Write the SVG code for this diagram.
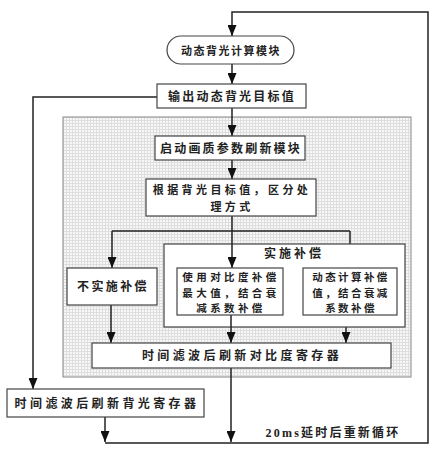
<svg xmlns="http://www.w3.org/2000/svg" width="437" height="450" viewBox="0 0 437 450">
<defs>
<pattern id="grid" width="3" height="3" patternUnits="userSpaceOnUse">
<rect width="3" height="3" fill="#f7f7f7"/>
<path d="M0,0.5 H3 M0.5,0 V3" stroke="#dedede" stroke-width="1"/>
</pattern>
<marker id="ah" viewBox="0 0 11 9" refX="11" refY="4.5" markerWidth="11" markerHeight="9" markerUnits="userSpaceOnUse" orient="auto">
<path d="M0,0 L11,4.5 L0,9 z" fill="#111"/>
</marker>
</defs>
<style>
.box{fill:#fff;stroke:#444;stroke-width:1.2}
.t{font-family:"Noto Sans CJK SC","Noto Sans CJK JP",sans-serif;font-weight:bold;font-size:12px;fill:#222;text-anchor:middle}
.s{font-size:11px}
.m{font-size:10.5px}
.c{fill:none;stroke:#222;stroke-width:1.5}
.a{fill:none;stroke:#222;stroke-width:1.5;marker-end:url(#ah)}
</style>
<rect id="region" x="63" y="117" width="348" height="260" fill="url(#grid)" stroke="#888" stroke-width="1"/>
<g id="connectors">
<path class="a" d="M105,443 H428 V12 H232 V36"/>
<path class="a" d="M232,64 V84"/>
<path class="a" d="M157,97 H33 V389"/>
<path class="a" d="M232,108 V136"/>
<path class="a" d="M232,160 V179"/>
<path class="c" d="M232,216 V231 M112,231 H350"/>
<path class="a" d="M112,231 V268"/>
<path class="a" d="M350,231 V259"/>
<path class="a" d="M111,305 V343"/>
<path class="a" d="M346,315 V343"/>
<path class="a" d="M231,368 V442"/>
<path class="a" d="M105,417 V442"/>
</g>
<g id="n_impl">
<rect class="box" x="164" y="244" width="241" height="83"/>
<text class="t" x="294" y="258" style="letter-spacing:3px">实施补偿</text>
</g>
<path class="a" d="M232,231 V268"/>
<path class="a" d="M231,315 V343"/>
<g id="n_calc">
<rect class="box" x="167" y="36" width="127" height="28" rx="14"/>
<text class="t" x="231" y="54.5" style="font-size:11px;letter-spacing:1.5px">动态背光计算模块</text>
</g>
<g id="n_output">
<rect class="box" x="157" y="84" width="149" height="24"/>
<text class="t" x="232" y="100.5" style="letter-spacing:2.2px">输出动态背光目标值</text>
</g>
<g id="n_start">
<rect class="box" x="155" y="136" width="150" height="24"/>
<text class="t" x="231" y="152.5" style="letter-spacing:2.2px">启动画质参数刷新模块</text>
</g>
<g id="n_judge">
<rect class="box" x="146" y="179" width="170" height="37"/>
<text class="t s" x="232" y="194" style="letter-spacing:3.4px">根据背光目标值，区分处</text>
<text class="t s" x="232" y="210.5" style="letter-spacing:3.4px">理方式</text>
</g>
<g id="n_none">
<rect class="box" x="67" y="268" width="90" height="37"/>
<text class="t" x="113" y="291" style="letter-spacing:2.4px">不实施补偿</text>
</g>
<g id="n_max">
<rect class="box" x="177" y="268" width="106" height="47"/>
<text class="t m" x="231" y="281" style="letter-spacing:3.4px">使用对比度补偿</text>
<text class="t m" x="231" y="296.5" style="letter-spacing:3.4px">最大值，结合衰</text>
<text class="t m" x="231" y="312" style="letter-spacing:3.4px">减系数补偿</text>
</g>
<g id="n_dyn">
<rect class="box" x="303" y="268" width="94" height="47"/>
<text class="t m" x="351" y="281" style="letter-spacing:2.4px">动态计算补偿</text>
<text class="t m" x="351" y="296.5" style="letter-spacing:2.4px">值，结合衰减</text>
<text class="t m" x="351" y="312" style="letter-spacing:2.4px">系数补偿</text>
</g>
<g id="n_contrast">
<rect class="box" x="92" y="343" width="299" height="25"/>
<text class="t" x="242" y="360" style="letter-spacing:3.4px">时间滤波后刷新对比度寄存器</text>
</g>
<g id="n_backlight">
<rect class="box" x="7" y="389" width="197" height="28"/>
<text class="t" x="107" y="407.5" style="letter-spacing:3.4px">时间滤波后刷新背光寄存器</text>
</g>
<text class="t" x="333" y="437" style="letter-spacing:2.2px"><tspan style="font-family:'Liberation Serif',serif">20ms</tspan>延时后重新循环</text>
</svg>
